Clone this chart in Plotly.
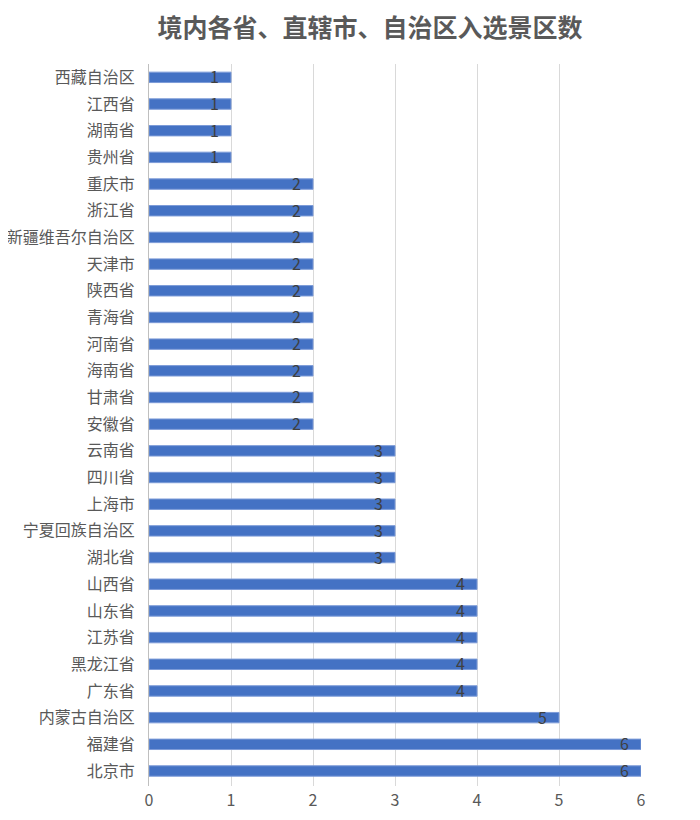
import plotly.graph_objects as go

categories = ["西藏自治区", "江西省", "湖南省", "贵州省", "重庆市", "浙江省", "新疆维吾尔自治区",
              "天津市", "陕西省", "青海省", "河南省", "海南省", "甘肃省", "安徽省", "云南省",
              "四川省", "上海市", "宁夏回族自治区", "湖北省", "山西省", "山东省", "江苏省",
              "黑龙江省", "广东省", "内蒙古自治区", "福建省", "北京市"]
values = [1, 1, 1, 1, 2, 2, 2, 2, 2, 2, 2, 2, 2, 2, 3, 3, 3, 3, 3, 4, 4, 4, 4, 4, 5, 6, 6]
x_ticks = [0, 1, 2, 3, 4, 5, 6]
title_text = "境内各省、直辖市、自治区入选景区数"

FONT = "Noto Sans CJK SC"
W, H = 692, 812  # page body has an 8px margin

fig = go.Figure()
fig.add_trace(go.Bar(
    x=values, y=categories, orientation="h",
    marker=dict(color="#4472C4", line=dict(color="#7C9BD8", width=1)),
    width=0.39, hoverinfo="x+y",
))

for c, v in zip(categories, values):
    fig.add_annotation(x=v, y=c, text=str(v), showarrow=False,
                       xanchor="right", xshift=-10, yshift=1,
                       font=dict(family=FONT, size=16, color="#404040"))

fig.update_layout(
    width=W, height=H,
    paper_bgcolor="white", plot_bgcolor="white",
    margin=dict(l=141, r=59, t=56, b=34),
    showlegend=False,
    title=dict(text=title_text, x=362 / W, xref="container", xanchor="center",
               y=1 - 20 / H, yref="container", yanchor="middle",
               font=dict(family=FONT, size=25, color="#595959", weight="bold")),
    font=dict(family=FONT, color="#595959"),
)
fig.update_xaxes(range=[0, 6], tickvals=x_ticks, showgrid=True, gridcolor="#D9D9D9",
                 gridwidth=1, zeroline=False, showline=False, automargin=False,
                 tickfont=dict(family=FONT, size=16, color="#595959"), ticks="",
                 ticklabelstandoff=3, fixedrange=True)
fig.update_yaxes(categoryorder="array", categoryarray=categories, autorange="reversed",
                 showline=True, linecolor="#BFBFBF", linewidth=1, ticks="",
                 ticklabelstandoff=10, automargin=False,
                 tickfont=dict(family=FONT, size=16, color="#595959"), fixedrange=True)

fig.write_html("out.html")
